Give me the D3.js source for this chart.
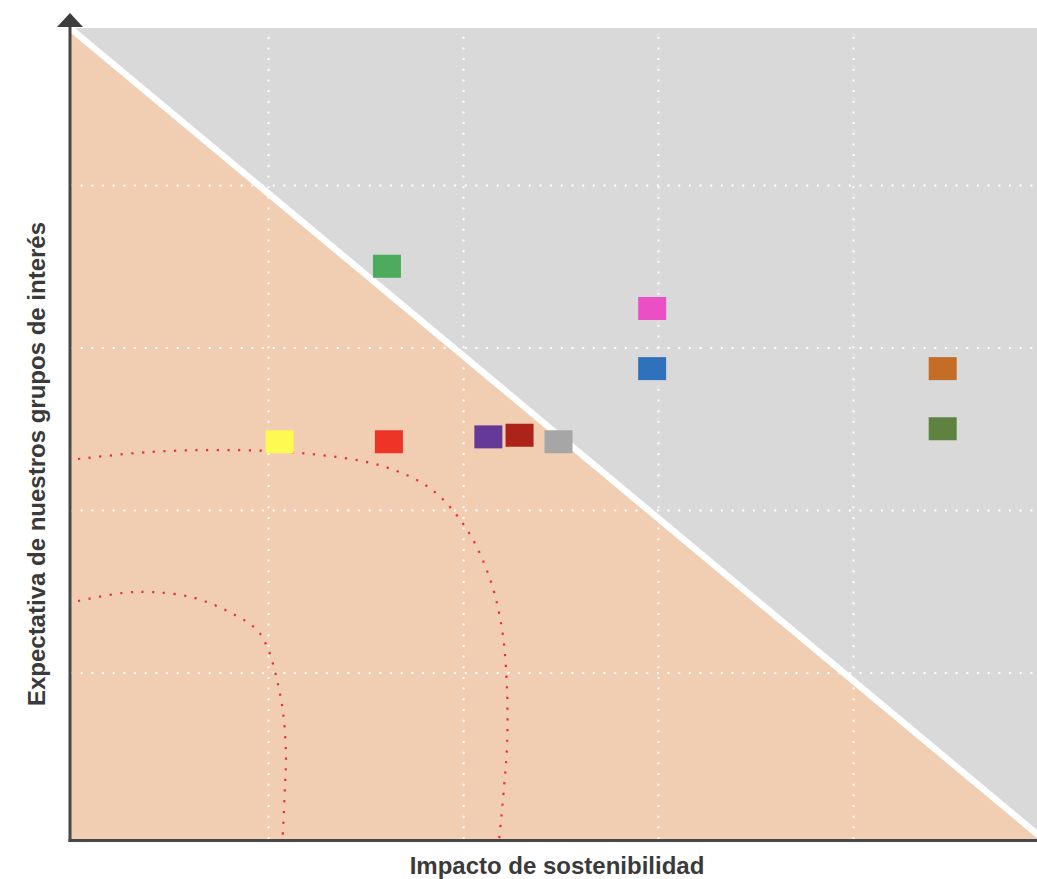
<!DOCTYPE html>
<html>
<head>
<meta charset="utf-8">
<script src="https://cdn.jsdelivr.net/npm/d3@7"></script>
<style>
  html, body { margin: 0; padding: 0; background: #ffffff; }
  svg { display: block; }
</style>
</head>
<body>
<svg id="chart" width="1037" height="879"></svg>
<script>
// ---------- data ----------
const topics   = ["T1", "T2", "T3", "T4", "T5", "T6", "T7", "T8", "T9", "T10"];
const impacto  = [1.61, 2.97, 2.97, 4.46, 4.46, 1.06, 1.62, 2.13, 2.29, 2.49];
const expectat = [3.50, 3.24, 2.87, 2.87, 2.50, 2.42, 2.42, 2.45, 2.46, 2.42];
const colores  = ["#4dab5d", "#ea4fc5", "#2f71bb", "#c46d27", "#5f8240",
                  "#fefa52", "#ee3424", "#643a99", "#ad2219", "#a6a6a6"];
const gridTicks = [1, 2, 3, 4];
const diagonal  = [[-0.2, 5.15], [5.2, -0.25]];
const curvaExterior = [[0.026, 2.314], [0.395, 2.357], [0.764, 2.369], [1.164, 2.351],
                       [1.585, 2.271], [1.836, 2.129], [2.015, 1.889], [2.133, 1.594],
                       [2.20, 1.268], [2.226, 0.880], [2.226, 0.554], [2.210, 0.289],
                       [2.186, -0.02]];
const curvaInterior = [[0.026, 1.440], [0.251, 1.489], [0.410, 1.495], [0.626, 1.458],
                       [0.821, 1.360], [0.944, 1.262], [1.000, 1.145], [1.046, 0.954],
                       [1.077, 0.757], [1.092, 0.498], [1.087, 0.295], [1.075, -0.02]];
const xLabel = "Impacto de sostenibilidad";
const yLabel = "Expectativa de nuestros grupos de interés";

(function () {
// ---------- layout ----------
const svg = d3.select("#chart");
const pL = 70, pR = 1037, pT = 28, pB = 839;
const x = d3.scaleLinear().domain([0, 5]).range([73, 1048]);
const y = d3.scaleLinear().domain([0, 5]).range([835, 22.5]);

svg.append("defs").append("clipPath").attr("id", "plotclip")
  .append("rect").attr("x", pL).attr("y", pT)
  .attr("width", pR - pL).attr("height", pB - pT);

const plot = svg.append("g").attr("clip-path", "url(#plotclip)");

// gray background
plot.append("rect").attr("x", pL).attr("y", pT)
  .attr("width", pR - pL).attr("height", pB - pT)
  .attr("fill", "#d9d9d9");

// peach triangle under the diagonal
const d0 = diagonal[0], d1 = diagonal[1];
const peach = [[d0[0], d0[1]], [d1[0], d1[1]], [d1[0], -1], [d0[0], -1]];
plot.append("path")
  .attr("d", d3.line().x(d => x(d[0])).y(d => y(d[1]))(peach) + "Z")
  .attr("fill", "#f1cdb2");

// grid via axes
const gx = plot.append("g").attr("transform", `translate(0,${pB})`)
  .call(d3.axisBottom(x).tickValues(gridTicks).tickSize(-(pB - pT)).tickFormat(""));
const gy = plot.append("g").attr("transform", `translate(${pL},0)`)
  .call(d3.axisLeft(y).tickValues(gridTicks).tickSize(-(pR - pL)).tickFormat(""));
[gx, gy].forEach(g => {
  g.select(".domain").remove();
  g.selectAll(".tick line")
    .attr("stroke", "#ffffff")
    .attr("stroke-width", 2)
    .attr("stroke-dasharray", "2,8.67");
});

// diagonal white line
plot.append("path")
  .attr("d", d3.line().x(d => x(d[0])).y(d => y(d[1]))(diagonal))
  .attr("stroke", "#ffffff").attr("stroke-width", 6.5).attr("fill", "none");

// red dotted curves
const curveLine = d3.line().x(d => x(d[0])).y(d => y(d[1])).curve(d3.curveCatmullRom.alpha(0.5));
[curvaExterior, curvaInterior].forEach(c => {
  plot.append("path")
    .attr("d", curveLine(c))
    .attr("fill", "none")
    .attr("stroke", "#e2313b")
    .attr("stroke-width", 2.2)
    .attr("stroke-dasharray", "2.2,8.5");
});

// markers
const mw = 28, mh = 23;
plot.selectAll("rect.topic")
  .data(topics.map((t, i) => ({ t, xi: impacto[i], yi: expectat[i], c: colores[i] })))
  .join("rect")
  .attr("class", "topic")
  .attr("x", d => x(d.xi) - mw / 2)
  .attr("y", d => y(d.yi) - mh / 2)
  .attr("width", mw).attr("height", mh)
  .attr("fill", d => d.c);

// axes lines
svg.append("line").attr("x1", pL).attr("x2", pL).attr("y1", 26).attr("y2", pB + 3)
  .attr("stroke", "#474747").attr("stroke-width", 3);
svg.append("line").attr("x1", pL - 1.5).attr("x2", pR).attr("y1", pB + 1.5).attr("y2", pB + 1.5)
  .attr("stroke", "#474747").attr("stroke-width", 3);
// arrow head
svg.append("path").attr("d", `M${pL - 13},27 L${pL},13 L${pL + 13},27 Z`).attr("fill", "#3d3d3d");

// labels
svg.append("text")
  .attr("x", 557).attr("y", 874)
  .attr("text-anchor", "middle")
  .attr("font-family", "Liberation Sans, Arial, sans-serif")
  .attr("font-weight", "bold").attr("font-size", 24)
  .attr("fill", "#3a3a3a")
  .text(xLabel);
svg.append("text")
  .attr("transform", `translate(45,464) rotate(-90)`)
  .attr("text-anchor", "middle")
  .attr("font-family", "Liberation Sans, Arial, sans-serif")
  .attr("font-weight", "bold").attr("font-size", 24)
  .attr("fill", "#3a3a3a")
  .text(yLabel);
})();
</script>
</body>
</html>
